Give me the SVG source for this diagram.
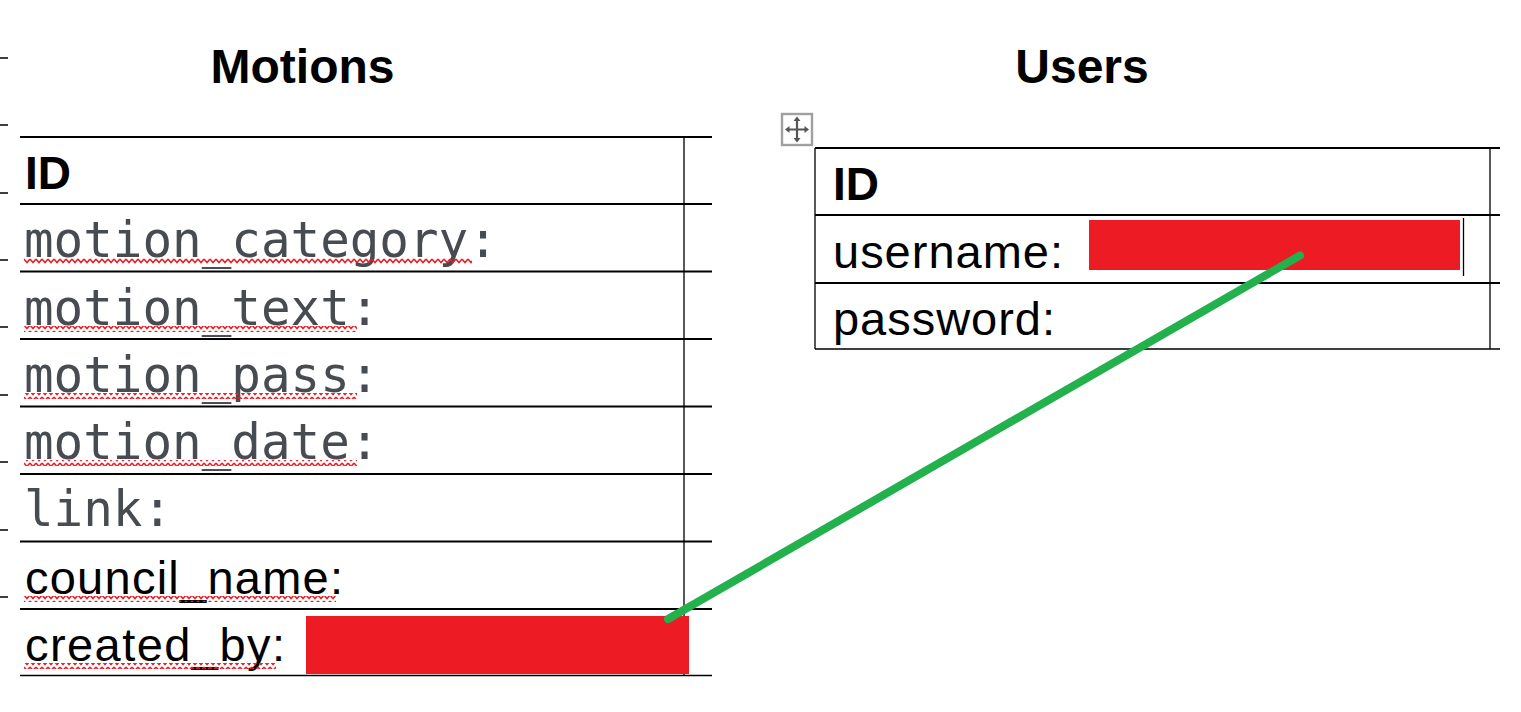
<svg xmlns="http://www.w3.org/2000/svg" width="1521" height="712" viewBox="0 0 1521 712">
<style>
.rule{stroke:#000;stroke-width:2.2;fill:none}
.thin{stroke:#000;stroke-width:1.3;fill:none}
.tick{stroke:#000;stroke-width:1.6;fill:none}
.title{font-family:"Liberation Sans",Arial,sans-serif;font-weight:bold;font-size:48px;fill:#000}
.hdr{font-family:"Liberation Sans",Arial,sans-serif;font-weight:bold;font-size:46px;fill:#000}
.mono{font-family:"DejaVu Sans Mono","Liberation Mono",monospace;font-size:49.2px;fill:#474c52}
.sans{font-family:"Liberation Sans",Arial,sans-serif;font-size:47px;fill:#000}
.redact{fill:#ed1c24}
.squig{fill:url(#squiggle)}
</style>
<defs>
<pattern id="squiggle" patternUnits="userSpaceOnUse" x="0" y="0" width="6" height="6">
<polyline points="0,1 3,4.5 6,1" fill="none" stroke="#ec1c24" stroke-width="1.5"/>
</pattern>
</defs>
<rect width="1521" height="712" fill="#fff"/>

<g id="margin-ticks" class="tick">
<path d="M0 58H8M0 125H8M0 193H8M0 260H8M0 327H8M0 395H8M0 462H8M0 530H8M0 597H8"/>
</g>

<g id="motions">
<text class="title" x="302.5" y="83" text-anchor="middle">Motions</text>
<path class="rule" d="M20 137H712M20 204H712M20 271.5H712M20 339H712M20 406.5H712M20 474H712M20 541.5H712M20 609H712"/>
<path class="thin" d="M20 675.5H712M684 137V675.5"/>
<text class="hdr" x="25" y="189">ID</text>
<text class="mono" x="24" y="257">motion_category:</text>
<rect class="squig" x="24" y="258" width="448" height="6"/>
<text class="mono" x="24" y="324.5">motion_text:</text>
<rect class="squig" x="24" y="326" width="333" height="6"/>
<text class="mono" x="24" y="392">motion_pass:</text>
<rect class="squig" x="24" y="393" width="333" height="6"/>
<text class="mono" x="24" y="459">motion_date:</text>
<rect class="squig" x="24" y="460" width="333" height="6"/>
<text class="mono" x="24" y="526">link:</text>
<text class="sans" x="25" y="594" textLength="318">council_name:</text>
<rect class="squig" x="24" y="596" width="312" height="6"/>
<text class="sans" x="25" y="661" textLength="260">created_by:</text>
<rect class="squig" x="24" y="663" width="252" height="6"/>
<rect class="redact" x="306" y="616" width="383" height="58"/>
</g>

<g id="users">
<text class="title" x="1082" y="83" text-anchor="middle" font-size="45">Users</text>
<g id="move-handle">
<rect x="782" y="114" width="30" height="31" fill="#fff" stroke="#a0a0a0" stroke-width="2.4"/>
<path d="M788 129.5H806M797 120V139" stroke="#555" stroke-width="2.2" fill="none"/>
<path d="M797 116.5l-3.5 4.5h7zM797 142.5l-3.5-4.5h7zM785 129.5l4.5-3.5v7zM809 129.5l-4.5-3.5v7z" fill="#555"/>
</g>
<path class="rule" d="M815 148H1500M815 215H1500M815 283H1500"/>
<path class="thin" d="M815 349H1500M815 148V349M1490 148V349M1463.5 218V276"/>
<text class="hdr" x="833" y="200">ID</text>
<text class="sans" x="833" y="268" textLength="230">username:</text>
<rect class="redact" x="1089" y="220" width="371" height="50"/>
<text class="sans" x="833" y="335" textLength="222">password:</text>
</g>

<g id="connectors">
<line x1="668" y1="619" x2="1300" y2="255.5" stroke="#22b14c" stroke-width="8" stroke-linecap="round"/>
</g>
</svg>
